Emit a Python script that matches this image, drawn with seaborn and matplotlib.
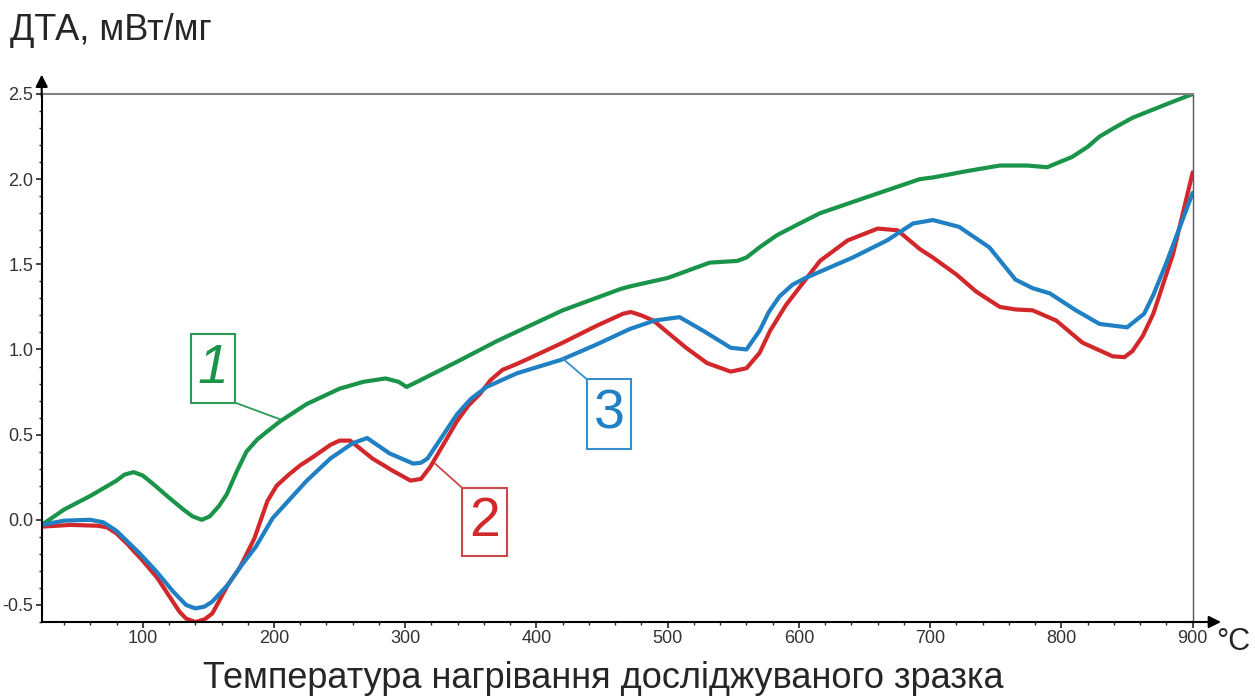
import matplotlib
matplotlib.use("Agg")
import matplotlib.pyplot as plt
from matplotlib.patches import Rectangle
from matplotlib.ticker import MultipleLocator, FormatStrFormatter
import seaborn as sns

# curve 1 (green)
t1 = [23, 40, 60, 80, 86, 93, 100, 108, 120, 131, 138, 145, 151, 158, 164, 172, 179, 187, 195, 205,
      225, 250, 268, 285, 295, 301, 309, 340, 370, 420, 464, 471, 500, 532, 553, 560, 570, 583, 598,
      616, 650, 692, 702, 730, 753, 774, 789, 808, 820, 829, 840, 854, 880, 900]
v1 = [-0.03, 0.06, 0.14, 0.23, 0.265, 0.28, 0.26, 0.21, 0.13, 0.06, 0.02, 0.0, 0.02, 0.08, 0.15,
      0.29, 0.40, 0.47, 0.52, 0.58, 0.68, 0.77, 0.81, 0.83, 0.81, 0.78, 0.81, 0.93, 1.05, 1.23, 1.355,
      1.37, 1.42, 1.51, 1.52, 1.54, 1.60, 1.67, 1.73, 1.80, 1.89, 2.00, 2.01, 2.05, 2.08, 2.08, 2.07,
      2.13, 2.19, 2.25, 2.30, 2.36, 2.44, 2.50]

# curve 2 (red)
t2 = [23, 45, 66, 73, 80, 88, 100, 111, 128, 133, 140, 147, 153, 165, 174, 185, 190, 195, 202, 212,
      220, 230, 243, 250, 258, 275, 290, 304, 312, 319, 339.5, 348, 357, 365, 374, 385, 395, 420, 446,
      466, 472, 480, 489, 514, 530, 548, 560, 570, 578, 590, 603, 616, 637, 660, 675, 692, 702, 720,
      735, 745, 753, 765, 778, 796, 816, 839, 848, 854, 862, 870, 885, 900]
v2 = [-0.04, -0.03, -0.035, -0.045, -0.08, -0.14, -0.24, -0.34, -0.54, -0.58, -0.60, -0.585, -0.55,
      -0.38, -0.28, -0.11, 0.0, 0.11, 0.20, 0.27, 0.32, 0.37, 0.44, 0.465, 0.465, 0.36, 0.29, 0.23,
      0.24, 0.31, 0.58, 0.67, 0.74, 0.82, 0.88, 0.915, 0.95, 1.04, 1.14, 1.21, 1.22, 1.20, 1.17, 1.01,
      0.92, 0.87, 0.89, 0.98, 1.11, 1.26, 1.39, 1.52, 1.64, 1.71, 1.70, 1.59, 1.54, 1.44, 1.34, 1.29,
      1.25, 1.235, 1.23, 1.17, 1.04, 0.96, 0.955, 0.99, 1.08, 1.21, 1.56, 2.04]

# curve 3 (blue)
t3 = [23, 40, 60, 70, 80, 98, 110, 123, 133, 140, 147, 153, 165, 174, 186, 199, 225, 243, 260, 271,
      288, 306, 312, 317, 339.5, 350, 362, 385, 419, 446, 471, 490, 509, 527, 548, 560, 570, 577, 585,
      595, 605, 641, 667, 687, 702, 722, 745, 765, 778, 791, 811, 829, 850, 863, 870, 880, 900]
v3 = [-0.03, -0.005, 0.0, -0.015, -0.065, -0.20, -0.30, -0.42, -0.50, -0.52, -0.51, -0.48, -0.38,
      -0.28, -0.16, 0.01, 0.23, 0.36, 0.45, 0.48, 0.39, 0.33, 0.335, 0.36, 0.62, 0.71, 0.78, 0.86,
      0.94, 1.03, 1.12, 1.17, 1.19, 1.11, 1.01, 1.00, 1.11, 1.22, 1.31, 1.38, 1.42, 1.54, 1.64, 1.74,
      1.76, 1.72, 1.60, 1.41, 1.36, 1.33, 1.23, 1.15, 1.13, 1.21, 1.32, 1.51, 1.92]

green, red, blue = "#1a9448", "#d3282b", "#1f80c4"

sns.set_style("ticks")
plt.rcParams["font.family"] = ["Liberation Sans", "DejaVu Sans"]

fig = plt.figure(figsize=(12.55, 6.97), dpi=100)
ax = fig.add_axes([41.7 / 1255, 75 / 697, 1151 / 1255, 528 / 697])

for t, v, c in [(t1, v1, green), (t2, v2, red), (t3, v3, blue)]:
    sns.lineplot(x=t, y=v, ax=ax, color=c, lw=3, sort=False,
                 solid_joinstyle="round", solid_capstyle="round")

ax.set_xlim(23, 900)
ax.set_ylim(-0.6, 2.5)
ax.xaxis.set_major_locator(MultipleLocator(100))
ax.xaxis.set_minor_locator(MultipleLocator(20))
ax.yaxis.set_major_locator(MultipleLocator(0.5))
ax.yaxis.set_minor_locator(MultipleLocator(0.1))
ax.yaxis.set_major_formatter(FormatStrFormatter("%.1f"))
ax.tick_params(which="major", length=4, width=1.2, labelsize=13, pad=2,
               colors="#222222", labelcolor="#333333")
ax.tick_params(which="minor", length=2.5, width=1)
ax.set_xlabel("")
ax.set_ylabel("")

for s in ["left", "bottom"]:
    ax.spines[s].set_color("black")
    ax.spines[s].set_linewidth(1.5)
ax.spines["top"].set_color("#808080")
ax.spines["top"].set_linewidth(1.5)
ax.spines["right"].set_color("#555555")
ax.spines["right"].set_linewidth(1)

# axis arrows
ax.annotate("", xy=(0, 1.042), xytext=(0, 0.99), xycoords="axes fraction",
            arrowprops=dict(arrowstyle="-|>", color="black", lw=1.5, mutation_scale=18))
ax.annotate("", xy=(1.027, 0), xytext=(0.99, 0), xycoords="axes fraction",
            arrowprops=dict(arrowstyle="-|>", color="black", lw=1.5, mutation_scale=18))

# numbered labels with leader lines
labels = [("1", green, "#2a9a55", (136.8, 0.688), (170.3, 1.088), (170.3, 0.688), (204.7, 0.59), "italic"),
          ("2", red, "#c9484a", (343.3, -0.212), (377.6, 0.188), (343.3, 0.188), (322.7, 0.33), "normal"),
          ("3", blue, "#3590c9", (438.5, 0.418), (472.0, 0.824), (438.5, 0.824), (419.5, 0.95), "normal")]
for txt, col, ecol, (x0, y0), (x1, y1), corner, tip, style in labels:
    ax.add_patch(Rectangle((x0, y0), x1 - x0, y1 - y0, fill=True, fc="white", ec=ecol, lw=1.5, zorder=5))
    ax.text((x0 + x1) / 2, (y0 + y1) / 2, txt, color=col, fontsize=40, style=style,
            ha="center", va="center", zorder=6)
    ax.plot([corner[0], tip[0]], [corner[1], tip[1]], color=ecol, lw=1.3, zorder=4)

fig.text(10 / 1255, 1 - 40 / 697, "ДТА, мВт/мг", fontsize=26, va="baseline", ha="left")
fig.text(603 / 1255, 1 - 688 / 697, "Температура нагрівання досліджуваного зразка",
         fontsize=26, va="baseline", ha="center")
fig.text(1216 / 1255, 1 - 650 / 697, "°C", fontsize=22, va="baseline", ha="left")

fig.savefig("out.png", dpi=100, facecolor="white")
